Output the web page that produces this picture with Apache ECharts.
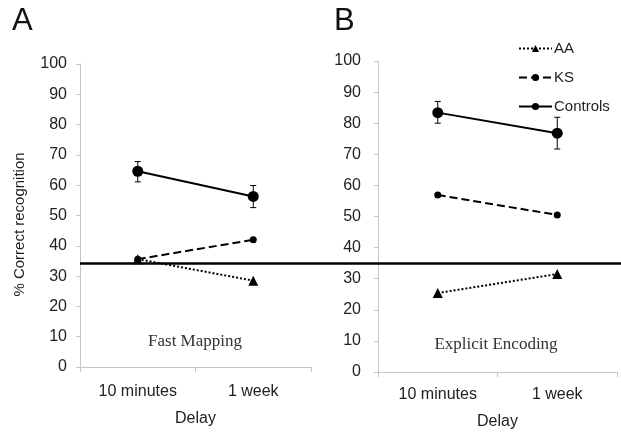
<!DOCTYPE html>
<html>
<head>
<meta charset="utf-8">
<script src="https://cdn.jsdelivr.net/npm/echarts@6/dist/echarts.min.js"></script>
<style>html,body{margin:0;padding:0;background:#fff}#c{width:621px;height:435px}</style>
</head>
<body>
<div id="c"></div>
<script>
const categories = ['10 minutes', '1 week'];
// Panel A: Fast Mapping
const aControls = [64.6, 56.3];
const aControlsLow = [61.1, 52.6];
const aControlsHigh = [67.8, 59.9];
const aKS = [35.6, 42.0];
const aAA = [35.6, 28.5];
// Panel B: Explicit Encoding
const bControls = [83.4, 76.8];
const bControlsLow = [80.0, 71.7];
const bControlsHigh = [87.0, 81.9];
const bKS = [56.9, 50.5];
const bAA = [25.4, 31.5];
// Chance level
const chance = 34.3;
const yTicks = [0, 10, 20, 30, 40, 50, 60, 70, 80, 90, 100];

const FONT = 'Liberation Sans, Arial, sans-serif';
const axisGray = '#c6c6c6';
const textColor = '#222';

function yAxisCfg(gridIndex, margin, name) {
  return {
    type: 'value', gridIndex, min: yTicks[0], max: yTicks[yTicks.length - 1], interval: yTicks[1] - yTicks[0],
    splitLine: { show: false },
    axisLine: { show: true, lineStyle: { color: axisGray, width: 1 } },
    axisTick: { show: true, length: 4, lineStyle: { color: axisGray } },
    axisLabel: { color: textColor, fontSize: 16, fontFamily: FONT, margin },
    name: name || '', nameLocation: 'middle', nameGap: 53, nameRotate: 90,
    nameTextStyle: { color: textColor, fontSize: 15, fontFamily: FONT, padding: [0, 18, 0, 0] }
  };
}
function xAxisCfg(gridIndex, margin, gap) {
  return {
    type: 'category', gridIndex, data: categories, boundaryGap: true,
    axisLine: { show: true, lineStyle: { color: axisGray, width: 1 } },
    axisTick: { show: true, length: 5, lineStyle: { color: axisGray } },
    axisLabel: { color: textColor, fontSize: 16, fontFamily: FONT, margin },
    name: 'Delay', nameLocation: 'middle', nameGap: gap,
    nameTextStyle: { color: textColor, fontSize: 16, fontFamily: FONT }
  };
}
function errSeries(name, xi, yi, low, high) {
  return {
    type: 'custom', name: name + ' SE', xAxisIndex: xi, yAxisIndex: yi, silent: true, z: 3,
    data: low.map((l, i) => [i, l, high[i]]),
    renderItem: function (params, api) {
      const lo = api.coord([api.value(0), api.value(1)]);
      const hi = api.coord([api.value(0), api.value(2)]);
      const w = 3;
      const st = { stroke: '#000', lineWidth: 1 };
      return { type: 'group', children: [
        { type: 'line', shape: { x1: lo[0], y1: lo[1], x2: hi[0], y2: hi[1] }, style: st },
        { type: 'line', shape: { x1: lo[0] - w, y1: lo[1], x2: lo[0] + w, y2: lo[1] }, style: st },
        { type: 'line', shape: { x1: hi[0] - w, y1: hi[1], x2: hi[0] + w, y2: hi[1] }, style: st }
      ] };
    }
  };
}
function lineSeries(name, xi, yi, data, type, symbol, size) {
  return {
    type: 'line', name, xAxisIndex: xi, yAxisIndex: yi, data,
    symbol, symbolSize: size, showSymbol: true, z: 4,
    lineStyle: { color: '#000', width: 2, type },
    itemStyle: { color: '#000', borderWidth: 0 },
    emphasis: { disabled: true }, animation: false
  };
}

const option = {
  animation: false,
  backgroundColor: '#fff',
  grid: [
    { left: 80, top: 64, width: 231, height: 303 },
    { left: 378, top: 61, width: 239, height: 311 },
    { left: 80, top: 64, right: 0, height: 303 }
  ],
  xAxis: [
    xAxisCfg(0, 17, 44),
    xAxisCfg(1, 15, 42),
    { type: 'category', gridIndex: 2, data: categories, show: false }
  ],
  yAxis: [
    yAxisCfg(0, 13, '% Correct recognition'),
    yAxisCfg(1, 17),
    { type: 'value', gridIndex: 2, min: 0, max: 100, show: false }
  ],
  legend: {
    orient: 'vertical', left: 513, top: 36, itemWidth: 33, itemHeight: 9, itemGap: 14,
    data: ['AA', 'KS', 'Controls'],
    textStyle: { color: textColor, fontSize: 15, fontFamily: FONT, padding: [0, 0, 0, -3] },
    selectedMode: false
  },
  graphic: [
    { type: 'text', left: 12, top: 6, style: { text: 'A', fontSize: 31, fontFamily: FONT, fill: '#111' } },
    { type: 'text', left: 334, top: 6, style: { text: 'B', fontSize: 31, fontFamily: FONT, fill: '#111' } },
    { type: 'text', x: 195, y: 342, style: { text: 'Fast Mapping', fontSize: 17, fontFamily: 'Liberation Serif, Times New Roman, serif', fill: '#333', align: 'center', verticalAlign: 'middle' } },
    { type: 'text', x: 496, y: 345, style: { text: 'Explicit Encoding', fontSize: 17, fontFamily: 'Liberation Serif, Times New Roman, serif', fill: '#333', align: 'center', verticalAlign: 'middle' } }
  ],
  series: [
    lineSeries('AA', 0, 0, aAA, 'dotted', 'triangle', 10),
    lineSeries('KS', 0, 0, aKS, 'dashed', 'circle', 7),
    lineSeries('Controls', 0, 0, aControls, 'solid', 'circle', 11),
    errSeries('Controls', 0, 0, aControlsLow, aControlsHigh),
    lineSeries('AA', 1, 1, bAA, 'dotted', 'triangle', 10),
    lineSeries('KS', 1, 1, bKS, 'dashed', 'circle', 7),
    lineSeries('Controls', 1, 1, bControls, 'solid', 'circle', 11),
    errSeries('Controls', 1, 1, bControlsLow, bControlsHigh),
    {
      type: 'line', name: 'Chance', xAxisIndex: 2, yAxisIndex: 2, data: [], silent: true,
      markLine: { silent: true, symbol: 'none', label: { show: false },
        lineStyle: { color: '#000', width: 2.5, type: 'solid' },
        data: [{ yAxis: chance }] }
    }
  ]
};
const chart = echarts.init(document.getElementById('c'), null, { renderer: 'canvas' });
chart.setOption(option);
</script>
</body>
</html>
